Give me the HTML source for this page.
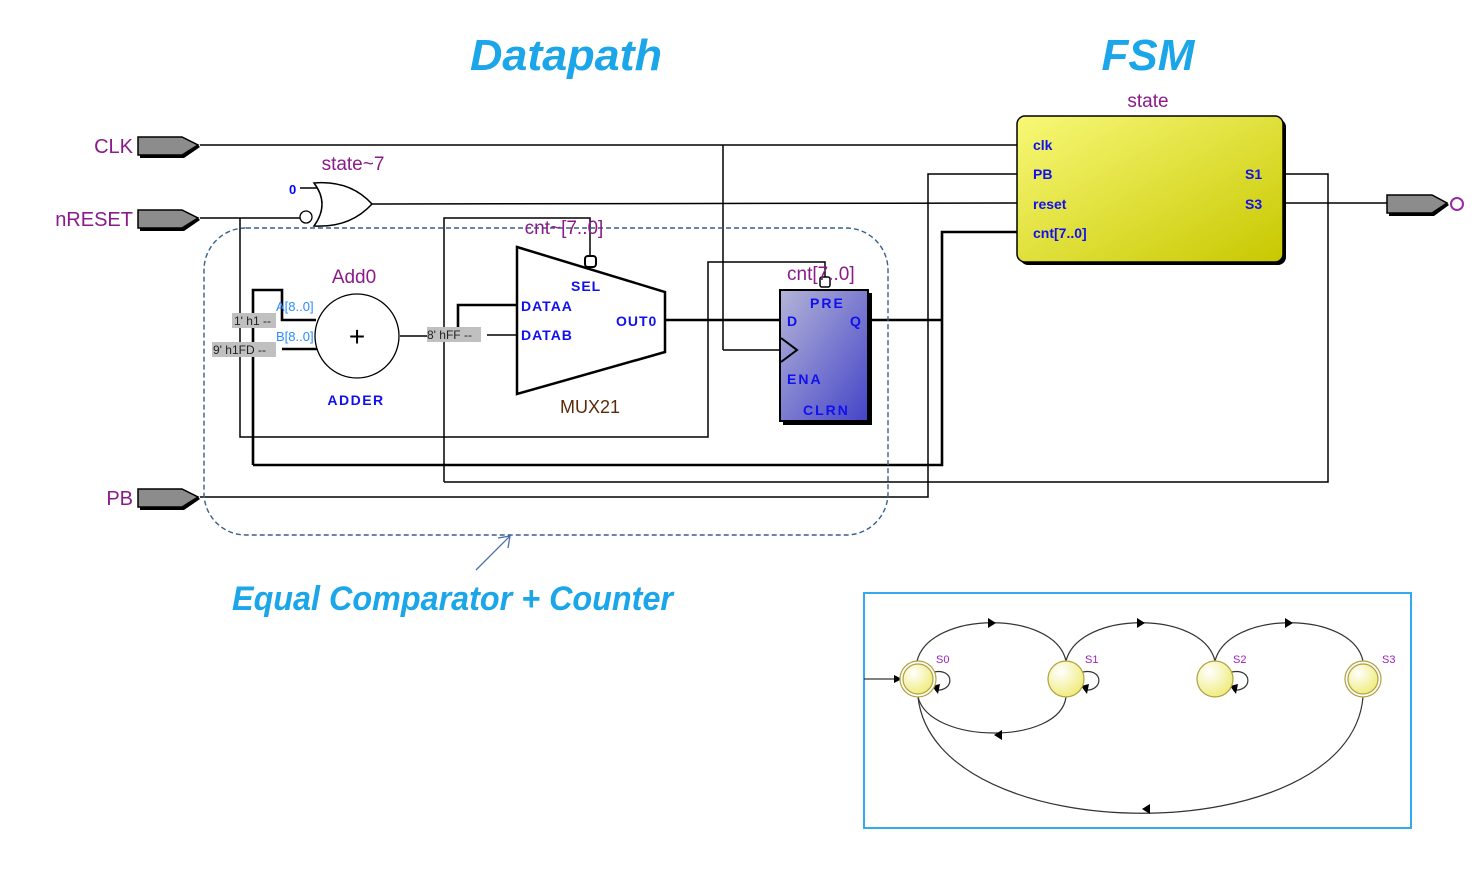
<!DOCTYPE html>
<html><head><meta charset="utf-8"><style>
html,body{margin:0;padding:0;background:#fff;}
svg{display:block;}
</style></head><body>
<svg width="1480" height="870" viewBox="0 0 1480 870" xmlns="http://www.w3.org/2000/svg" font-family="Liberation Sans, sans-serif">
<defs>
<linearGradient id="yel" x1="0" y1="0" x2="1" y2="1"><stop offset="0" stop-color="#f8f878"/><stop offset="1" stop-color="#c8c800"/></linearGradient>
<linearGradient id="blu" x1="0" y1="0" x2="1" y2="1"><stop offset="0" stop-color="#b4b4d8"/><stop offset="1" stop-color="#4444c8"/></linearGradient>
<radialGradient id="st" cx="0.35" cy="0.3" r="0.8"><stop offset="0" stop-color="#ffffff"/><stop offset="1" stop-color="#eeea70"/></radialGradient>
</defs>
<!-- titles -->
<text x="566" y="70" font-size="44" font-weight="bold" font-style="italic" fill="#1aa6e8" text-anchor="middle" textLength="192" lengthAdjust="spacingAndGlyphs">Datapath</text>
<text x="1148" y="70" font-size="44" font-weight="bold" font-style="italic" fill="#1aa6e8" text-anchor="middle">FSM</text>
<text x="232" y="610" font-size="34" font-weight="bold" font-style="italic" fill="#1aa6e8" textLength="441" lengthAdjust="spacingAndGlyphs">Equal Comparator + Counter</text>
<line x1="476" y1="570" x2="510" y2="536" stroke="#4a70b0" stroke-width="1.3"/>
<polyline points="498,538 510,536 508,548" fill="none" stroke="#4a70b0" stroke-width="1.3"/>

<!-- thin wires -->
<g stroke="#000" stroke-width="1.5" fill="none">
<line x1="200" y1="145" x2="1017" y2="145"/>
<line x1="200" y1="218" x2="300" y2="218"/>
<line x1="300" y1="188" x2="318" y2="188"/>
<line x1="372" y1="204" x2="1017" y2="203"/>
<line x1="723" y1="145" x2="723" y2="350"/>
<line x1="723" y1="350" x2="782" y2="350"/>
<polyline points="240,218 240,437 708,437 708,262 825,262 825,280"/>
<polyline points="444,482 444,218 590,218 590,256"/>
<polyline points="444,482 1328,482 1328,174 1283,174"/>
<polyline points="200,497 928,497 928,174 1017,174"/>
<line x1="1283" y1="203" x2="1387" y2="203"/>
<line x1="400" y1="336" x2="428" y2="336"/>
<line x1="487" y1="335" x2="517" y2="335"/>
</g>
<!-- thick wires -->
<g stroke="#000" stroke-width="2.6" fill="none">
<polyline points="253,465 942,465 942,232 1017,232"/>
<line x1="870" y1="320" x2="942" y2="320"/>
<polyline points="253,465 253,290 282,290 282,320 316,320"/>
<line x1="282" y1="349" x2="318" y2="349"/>
<polyline points="458,335 458,305 517,305"/>
<line x1="665" y1="320" x2="780" y2="320"/>
</g>

<!-- ports -->
<g fill="#8c8c8c" stroke="#000" stroke-width="1.5">
<path d="M138,137 H182 L198,145 L182,155 H138 Z"/>
<path d="M138,210 H182 L198,218 L182,228 H138 Z"/>
<path d="M138,489 H182 L198,497 L182,507 H138 Z"/>
<path d="M1387,195 H1432 L1447,203 L1432,213 H1387 Z"/>
</g>
<g fill="#000"><path d="M140,155 H182 L198,145 L200,147 L184,158 H140Z"/><path d="M140,228 H182 L198,218 L200,220 L184,231 H140Z"/><path d="M140,507 H182 L198,497 L200,499 L184,510 H140Z"/><path d="M1389,213 H1432 L1447,203 L1449,205 L1434,216 H1389Z"/></g>
<g fill="#8b1a8b" font-size="20">
<text x="133" y="153" text-anchor="end">CLK</text>
<text x="133" y="226" text-anchor="end">nRESET</text>
<text x="133" y="505" text-anchor="end">PB</text>
</g>
<circle cx="1457" cy="204" r="6" fill="none" stroke="#9b2aa8" stroke-width="2"/>

<!-- OR gate -->
<path d="M314,183 Q350,180 372,204 Q350,228 314,226 Q330,204 314,183 Z" fill="#fff" stroke="#000" stroke-width="1.5"/>
<circle cx="306" cy="217" r="6" fill="#fff" stroke="#000" stroke-width="1.3"/>
<text x="289" y="194" font-size="13" font-weight="bold" fill="#0000ff">0</text>
<text x="353" y="170" font-size="19" fill="#8b1a8b" text-anchor="middle">state~7</text>

<!-- dashed region -->
<rect x="204" y="228" width="684" height="307" rx="42" fill="none" stroke="#3a5f8a" stroke-width="1.4" stroke-dasharray="5,3"/>

<!-- adder -->
<circle cx="357" cy="336" r="42" fill="#fff" stroke="#000" stroke-width="1.3"/>
<text x="357" y="346" font-size="28" text-anchor="middle" fill="#000">+</text>
<text x="354" y="283" font-size="19" fill="#8b1a8b" text-anchor="middle">Add0</text>
<text x="356" y="405" font-size="14" font-weight="bold" fill="#1010ee" text-anchor="middle" letter-spacing="1.5">ADDER</text>
<text x="276" y="311" font-size="13" fill="#2a8cff">A[8..0]</text>
<text x="276" y="341" font-size="13" fill="#2a8cff">B[8..0]</text>
<rect x="232" y="313" width="44" height="15" fill="#c0c0c0"/>
<text x="234" y="325" font-size="12" fill="#222">1' h1 --</text>
<rect x="212" y="342" width="64" height="15" fill="#c0c0c0"/>
<text x="213" y="354" font-size="12" fill="#222">9' h1FD --</text>
<rect x="427" y="327" width="54" height="15" fill="#c0c0c0"/>
<text x="427" y="339" font-size="12" fill="#222">8' hFF --</text>

<!-- mux -->
<path d="M517,247 L665,292 L665,352 L517,394 Z" fill="#fff" stroke="#000" stroke-width="2.5"/>
<rect x="585" y="256" width="11" height="11" rx="3" fill="#fff" stroke="#000" stroke-width="2"/>
<text x="564" y="234" font-size="19" fill="#8b1a8b" text-anchor="middle">cnt~[7..0]</text>
<g font-size="14" font-weight="bold" fill="#1010ee" letter-spacing="1">
<text x="571" y="291">SEL</text>
<text x="521" y="311">DATAA</text>
<text x="521" y="340">DATAB</text>
<text x="616" y="326">OUT0</text>
</g>
<text x="590" y="413" font-size="18" fill="#5a2a0a" text-anchor="middle">MUX21</text>

<!-- DFF -->
<rect x="783" y="293" width="89" height="132" fill="#000"/>
<rect x="780" y="290" width="88" height="131" fill="url(#blu)" stroke="#000" stroke-width="2"/>
<path d="M781,338 L797,350 L781,362" fill="none" stroke="#000" stroke-width="2"/>
<rect x="820" y="277" width="10" height="10" rx="2" fill="#fff" stroke="#000" stroke-width="1.5"/>
<text x="787" y="280" font-size="19" fill="#8b1a8b">cnt[7..0]</text>
<g font-size="14" font-weight="bold" fill="#1010ee" letter-spacing="2">
<text x="810" y="308">PRE</text>
<text x="787" y="326">D</text>
<text x="850" y="326">Q</text>
<text x="787" y="384">ENA</text>
<text x="803" y="415">CLRN</text>
</g>

<!-- FSM block -->
<text x="1148" y="107" font-size="19" fill="#8b1a8b" text-anchor="middle">state</text>
<rect x="1020" y="119" width="266" height="146" rx="8" fill="#000"/>
<rect x="1017" y="116" width="266" height="146" rx="8" fill="url(#yel)" stroke="#000" stroke-width="1.5"/>
<g font-size="14" font-weight="bold" fill="#1010ee">
<text x="1033" y="150">clk</text>
<text x="1033" y="179">PB</text>
<text x="1033" y="209">reset</text>
<text x="1033" y="238">cnt[7..0]</text>
<text x="1245" y="179">S1</text>
<text x="1245" y="209">S3</text>
</g>

<!-- state diagram -->
<rect x="864" y="593" width="547" height="235" fill="#fff" stroke="#33aaee" stroke-width="2"/>
<g fill="none" stroke="#333" stroke-width="1.2">
<path d="M917,661 C930,610 1055,610 1066,661"/>
<path d="M1066,661 C1079,610 1203,610 1215,661"/>
<path d="M1215,661 C1228,610 1352,610 1363,661"/>
<path d="M1066,697 C1060,745 930,745 918,697"/>
<path d="M1363,697 C1350,852 935,852 918,697"/>
<line x1="864" y1="679" x2="898" y2="679"/>
<path d="M934,672 C955,668 955,692 935,690"/>
<path d="M1083,672 C1104,668 1104,692 1084,690"/>
<path d="M1232,672 C1253,668 1253,692 1233,690"/>
</g>
<g fill="#000">
<path d="M988,618 L996,623 L988,628Z"/>
<path d="M1137,618 L1145,623 L1137,628Z"/>
<path d="M1285,618 L1293,623 L1285,628Z"/>
<path d="M1002,730 L994,735 L1002,740Z"/>
<path d="M1150,804 L1142,809 L1150,814Z"/>
<path d="M894,675 L902,679 L894,683Z"/>
<path d="M932,686 L938,694 L940,684Z"/>
<path d="M1081,686 L1087,694 L1089,684Z"/>
<path d="M1230,686 L1236,694 L1238,684Z"/>
</g>
<g stroke="#b0a040" stroke-width="1.2">
<circle cx="918" cy="679" r="18" fill="#fff"/>
<circle cx="918" cy="679" r="15" fill="url(#st)"/>
<circle cx="1066" cy="679" r="18" fill="url(#st)"/>
<circle cx="1215" cy="679" r="18" fill="url(#st)"/>
<circle cx="1363" cy="679" r="18" fill="#fff"/>
<circle cx="1363" cy="679" r="15" fill="url(#st)"/>
</g>
<g font-size="11" fill="#a020c0">
<text x="936" y="663">S0</text><text x="1085" y="663">S1</text><text x="1233" y="663">S2</text><text x="1382" y="663">S3</text>
</g>
</svg>
</body></html>
